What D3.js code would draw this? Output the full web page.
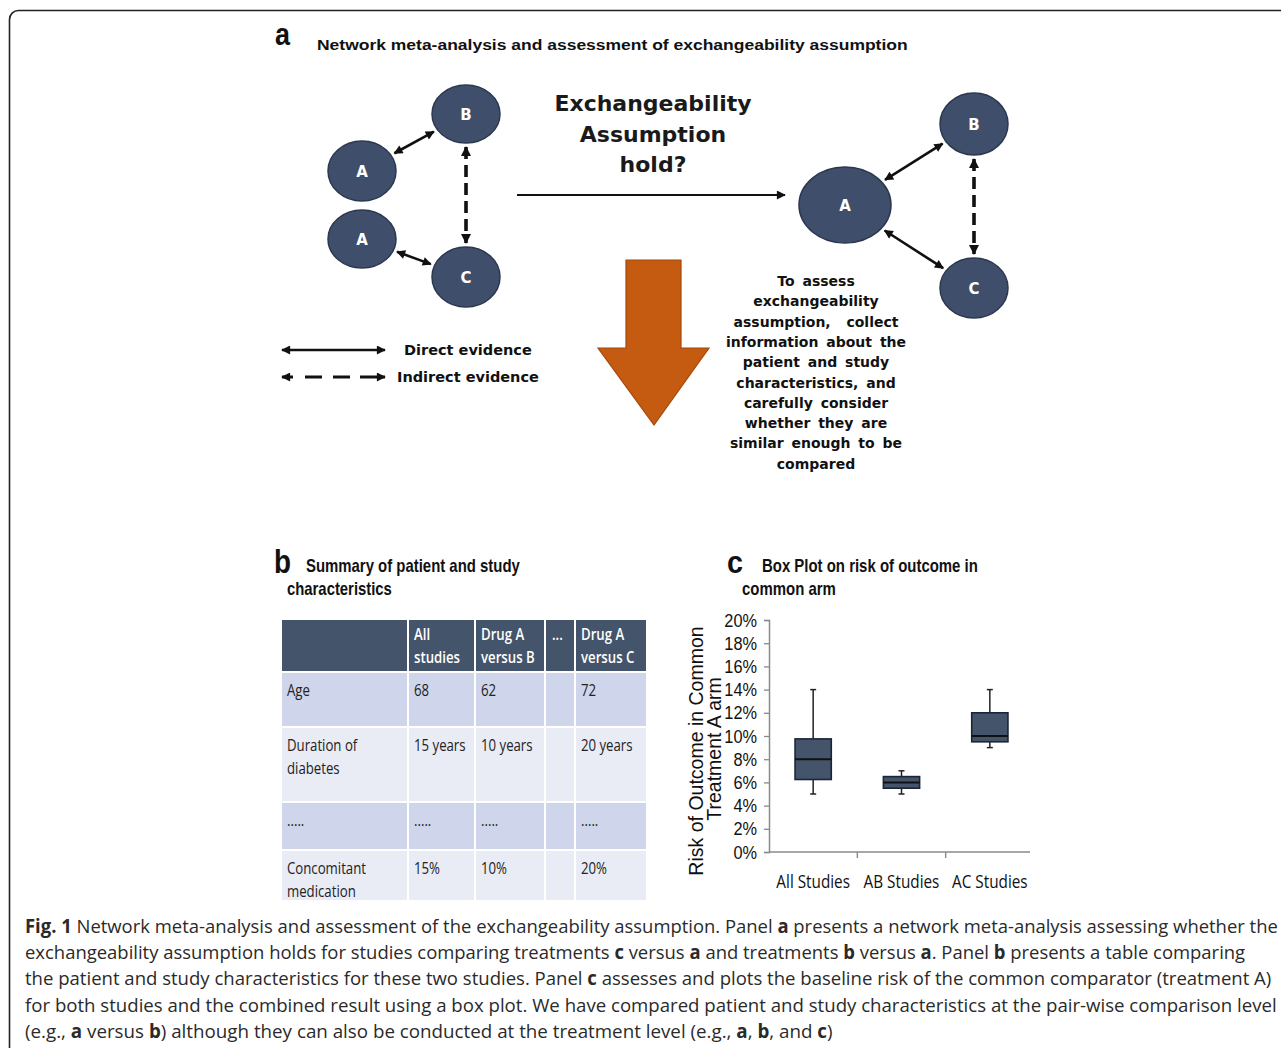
<!DOCTYPE html>
<html><head><meta charset="utf-8">
<script src="https://cdn.jsdelivr.net/npm/d3@7"></script>
<style>body{margin:0;background:#fff}svg{display:block}</style>
</head><body>
<svg id="fig" width="1281" height="1048"></svg>
<script>
// ---------------- DATA ----------------
// Panel c: box plot (risk of outcome, %)
const boxCategories = ["All Studies", "AB Studies", "AC Studies"];
const boxMin    = [5.0, 5.0, 9.0];
const boxQ1     = [6.25, 5.5, 9.5];
const boxMedian = [8.0, 6.0, 10.0];
const boxQ3     = [9.75, 6.5, 12.0];
const boxMax    = [14.0, 7.0, 14.0];
const yTickValues = [0, 2, 4, 6, 8, 10, 12, 14, 16, 18, 20];
const yTickLabels = ["0%", "2%", "4%", "6%", "8%", "10%", "12%", "14%", "16%", "18%", "20%"];

// Panel b: table
const tableHeader = [[""], ["All", "studies"], ["Drug A", "versus B"], ["..."], ["Drug A", "versus C"]];
const tableRowLabels = [["Age"], ["Duration of", "diabetes"], ["....."], ["Concomitant", "medication"]];
const tableColAll = ["68", "15 years", ".....", "15%"];
const tableColAB  = ["62", "10 years", ".....", "10%"];
const tableColDots = ["", "", "", ""];
const tableColAC  = ["72", "20 years", ".....", "20%"];

// Panel a: network
const leftNodeLabels  = ["B", "A", "A", "C"];
const rightNodeLabels = ["A", "B", "C"];
const leftEdges  = [[1, 0, "direct"], [2, 3, "direct"], [0, 3, "indirect"]];
const rightEdges = [[0, 1, "direct"], [0, 2, "direct"], [1, 2, "indirect"]];
const questionLines = ["Exchangeability", "Assumption", "hold?"];
const assessLines = ["To assess", "exchangeability", "assumption,  collect", "information about the",
  "patient and study", "characteristics, and", "carefully consider", "whether they are",
  "similar enough to be", "compared"];
const legendLabels = ["Direct evidence", "Indirect evidence"];

const captionLines = [
  "**Fig. 1** Network meta-analysis and assessment of the exchangeability assumption. Panel **a** presents a network meta-analysis assessing whether the",
  "exchangeability assumption holds for studies comparing treatments **c** versus **a** and treatments **b** versus **a**. Panel **b** presents a table comparing",
  "the patient and study characteristics for these two studies. Panel **c** assesses and plots the baseline risk of the common comparator (treatment A)",
  "for both studies and the combined result using a box plot. We have compared patient and study characteristics at the pair-wise comparison level",
  "(e.g., **a** versus **b**) although they can also be conducted at the treatment level (e.g., **a**, **b**, and **c**)"
];

// ---------------- LAYOUT ----------------
const L = {
  leftNodes: [{cx:466,cy:114,rx:34,ry:29},{cx:362,cy:171,rx:34,ry:30},{cx:362,cy:239,rx:34,ry:29},{cx:466,cy:277,rx:34,ry:30}],
  rightNodes: [{cx:845,cy:205,rx:46,ry:38},{cx:974,cy:124,rx:34,ry:31},{cx:974,cy:288,rx:34,ry:30}],
  tableCols: [281, 408, 475, 545, 575, 647],
  tableRows: [619, 672, 727, 802, 850, 901],
  captionWidths: [1253, 1221, 1247, 1253, 808],
  captionBaseY: 933, captionStep: 26.2
};
const NODE_FILL = "#3f4e6a", NODE_STROKE = "#2b3850", DARK = "#44546a";

const svg = d3.select("#fig");
const defs = svg.append("defs");
function marker(id, w, h) {
  defs.append("marker").attr("id", id).attr("viewBox", "0 0 10 10")
    .attr("refX", 9).attr("refY", 5).attr("markerUnits", "userSpaceOnUse")
    .attr("markerWidth", w).attr("markerHeight", h).attr("orient", "auto-start-reverse")
    .append("path").attr("d", "M0,0 L10,5 L0,10 z").attr("fill", "#111");
}
marker("ah", 11, 9);
marker("ahd", 10, 11);
// horizontal squeeze about the text's anchor x (real geometry, not textLength)
function squeeze(sel, f) {
  sel.each(function () {
    const ax = +(this.getAttribute("x") || 0);
    this.setAttribute("transform", `translate(${ax},0) scale(${f},1) translate(${-ax},0)`);
  });
}
function condense(sel, f) { squeeze(sel, f); }
function fit(sel, w) {
  sel.each(function () {
    const nat = this.getComputedTextLength();
    squeeze(d3.select(this), w / nat);
  });
}

// frame
svg.append("rect").attr("x", 9.5).attr("y", 10.5).attr("width", 1320).attr("height", 1100)
  .attr("rx", 9).attr("fill", "none").attr("stroke", "#222").attr("stroke-width", 1.6);

// ---------------- PANEL A ----------------
const gA = svg.append("g");
gA.append("text").attr("x", 275).attr("y", 45).attr("font-family", "Liberation Sans, Arial")
  .attr("font-weight", 700).attr("font-size", 31).attr("fill", "#111").text("a").call(fit, 15);
gA.append("text").attr("x", 317).attr("y", 50).attr("font-family", "Liberation Sans, Arial")
  .attr("font-weight", 700).attr("font-size", 15.5).attr("fill", "#111")
  .text("Network meta-analysis and assessment of exchangeability assumption").call(fit, 591);

function edgePts(a, b, gap) {
  const dx = b.cx - a.cx, dy = b.cy - a.cy, len = Math.hypot(dx, dy), ux = dx / len, uy = dy / len;
  const ta = 1 / Math.hypot(ux / a.rx, uy / a.ry), tb = 1 / Math.hypot(ux / b.rx, uy / b.ry);
  return [a.cx + ux * (ta + gap), a.cy + uy * (ta + gap), b.cx - ux * (tb + gap), b.cy - uy * (tb + gap)];
}
function drawNetwork(nodes, labels, edges) {
  edges.forEach(([i, j, kind]) => {
    const p = edgePts(nodes[i], nodes[j], 4);
    const ln = gA.append("line").attr("x1", p[0]).attr("y1", p[1]).attr("x2", p[2]).attr("y2", p[3])
      .attr("stroke", "#111").attr("fill", "none");
    if (kind === "direct") {
      ln.attr("stroke-width", 2.6).attr("marker-start", "url(#ah)").attr("marker-end", "url(#ah)");
    } else {
      ln.attr("stroke-width", 3.6).attr("stroke-dasharray", "12,6")
        .attr("marker-start", "url(#ahd)").attr("marker-end", "url(#ahd)");
    }
  });
  nodes.forEach((n, k) => {
    gA.append("ellipse").attr("cx", n.cx).attr("cy", n.cy).attr("rx", n.rx).attr("ry", n.ry)
      .attr("fill", NODE_FILL).attr("stroke", NODE_STROKE).attr("stroke-width", 1.5);
    gA.append("text").attr("x", n.cx).attr("y", n.cy + 5.5).attr("text-anchor", "middle")
      .attr("font-family", "DejaVu Sans, Verdana").attr("font-weight", 700).attr("font-size", 15)
      .attr("fill", "#fff").text(labels[k]);
  });
}
drawNetwork(L.leftNodes, leftNodeLabels, leftEdges);
drawNetwork(L.rightNodes, rightNodeLabels, rightEdges);

// big horizontal arrow
gA.append("line").attr("x1", 517).attr("y1", 195).attr("x2", 785).attr("y2", 195)
  .attr("stroke", "#111").attr("stroke-width", 2).attr("marker-end", "url(#ah)");

// question text
gA.selectAll("text.q").data(questionLines).join("text").attr("class", "q")
  .attr("x", 653).attr("y", (d, i) => 111 + i * 30.5).attr("text-anchor", "middle")
  .attr("font-family", "DejaVu Sans, Verdana").attr("font-weight", 700).attr("font-size", 22)
  .attr("fill", "#1a1a1a").text(d => d);

// orange arrow
gA.append("path").attr("d", "M626,260 L681,260 L681,348 L709,348 L654,425 L598,348 L626,348 Z")
  .attr("fill", "#c55a11").attr("stroke", "#a4490c").attr("stroke-width", 1.2);

// assess text
gA.selectAll("text.as").data(assessLines).join("text").attr("class", "as")
  .attr("x", 816).attr("y", (d, i) => 286 + i * 20.3).attr("text-anchor", "middle")
  .attr("font-family", "DejaVu Sans, Verdana").attr("font-weight", 700).attr("font-size", 14)
  .attr("word-spacing", 3).attr("fill", "#111").attr("xml:space", "preserve").text(d => d);

// legend
gA.append("line").attr("x1", 282).attr("y1", 350).attr("x2", 385).attr("y2", 350)
  .attr("stroke", "#111").attr("stroke-width", 2.6)
  .attr("marker-start", "url(#ah)").attr("marker-end", "url(#ah)");
gA.append("line").attr("x1", 282).attr("y1", 377).attr("x2", 385).attr("y2", 377)
  .attr("stroke", "#111").attr("stroke-width", 2.8).attr("stroke-dasharray", "11,12,17,11,17,10,30")
  .attr("marker-start", "url(#ah)").attr("marker-end", "url(#ah)");
gA.selectAll("text.lg").data(legendLabels).join("text").attr("class", "lg")
  .attr("x", (d, i) => i === 0 ? 404 : 397).attr("y", (d, i) => 355 + i * 27)
  .attr("font-family", "DejaVu Sans, Verdana").attr("font-weight", 700).attr("font-size", 14.5)
  .attr("fill", "#111").text(d => d);

// ---------------- PANEL B ----------------
const gB = svg.append("g");
gB.append("text").attr("x", 274).attr("y", 573).attr("font-family", "Liberation Sans, Arial")
  .attr("font-weight", 700).attr("font-size", 34).attr("fill", "#111").text("b").call(fit, 17);
gB.append("text").attr("x", 306).attr("y", 572).attr("font-family", "Liberation Sans, Arial")
  .attr("font-weight", 700).attr("font-size", 17.5).attr("fill", "#111")
  .text("Summary of patient and study").call(fit, 214);
gB.append("text").attr("x", 287).attr("y", 595).attr("font-family", "Liberation Sans, Arial")
  .attr("font-weight", 700).attr("font-size", 17.5).attr("fill", "#111")
  .text("characteristics").call(fit, 105);

const tableBody = tableRowLabels.map((lab, r) => [lab, [tableColAll[r]], [tableColAB[r]], [tableColDots[r]], [tableColAC[r]]]);
const tableAll = [tableHeader].concat(tableBody);
const rowFills = [DARK, "#cfd5ea", "#e9ebf5", "#cfd5ea", "#e9ebf5"];
const C = L.tableCols, R = L.tableRows;
tableAll.forEach((row, r) => {
  row.forEach((cell, c) => {
    gB.append("rect").attr("x", C[c] + 1).attr("y", R[r] + 1)
      .attr("width", C[c + 1] - C[c] - 2).attr("height", R[r + 1] - R[r] - 2)
      .attr("fill", rowFills[r]);
    cell.forEach((line, k) => {
      if (!line) return;
      gB.append("text").attr("x", C[c] + (r === 0 && c === 3 ? 7 : 6))
        .attr("y", R[r] + (r === 0 ? 21 : 24) + k * 23.5)
        .attr("font-family", "Open Sans, Noto Sans, sans-serif").attr("font-size", 16.5)
        .attr("font-weight", r === 0 ? 600 : 400)
        .attr("fill", r === 0 ? "#fff" : "#222").text(line).call(condense, 0.8);
    });
  });
});

// ---------------- PANEL C ----------------
const gC = svg.append("g");
gC.append("text").attr("x", 727).attr("y", 573).attr("font-family", "Liberation Sans, Arial")
  .attr("font-weight", 700).attr("font-size", 32).attr("fill", "#111").text("c").call(fit, 16);
gC.append("text").attr("x", 762).attr("y", 572).attr("font-family", "Liberation Sans, Arial")
  .attr("font-weight", 700).attr("font-size", 17.5).attr("fill", "#111")
  .text("Box Plot on risk of outcome in").call(fit, 216);
gC.append("text").attr("x", 742).attr("y", 595).attr("font-family", "Liberation Sans, Arial")
  .attr("font-weight", 700).attr("font-size", 17.5).attr("fill", "#111")
  .text("common arm").call(fit, 94);

const y = d3.scaleLinear().domain([0, 20]).range([852, 620]);
const x = d3.scaleBand().domain(boxCategories).range([769, 1034]).padding(0);

const yAxis = gC.append("g").attr("transform", "translate(769,0)")
  .call(d3.axisLeft(y).tickValues(yTickValues).tickFormat((d, i) => yTickLabels[i]).tickSize(5).tickPadding(7));
yAxis.select(".domain").attr("stroke", "#8a8a8a").attr("stroke-width", 1.5);
yAxis.selectAll(".tick line").attr("stroke", "#8a8a8a").attr("stroke-width", 1.3);
yAxis.selectAll(".tick text").attr("font-family", "Liberation Sans, Arial").attr("font-size", 19)
  .attr("fill", "#111").call(condense, 0.86);

const xAxis = gC.append("g").attr("transform", "translate(0,852)")
  .call(d3.axisBottom(x).tickSize(0).tickPadding(0));
xAxis.select(".domain").attr("stroke", "#8a8a8a").attr("stroke-width", 1.5)
  .attr("d", `M${x.range()[0]},0H${x.range()[1] - 4}`);
xAxis.selectAll(".tick text").attr("y", 36).attr("dy", 0).attr("font-family", "Open Sans, Noto Sans, sans-serif")
  .attr("font-size", 18).attr("fill", "#111").call(condense, 0.85);
gC.selectAll("line.xb").data(boxCategories.slice(1)).join("line").attr("class", "xb")
  .attr("x1", d => x(d)).attr("x2", d => x(d)).attr("y1", 852).attr("y2", 858)
  .attr("stroke", "#8a8a8a").attr("stroke-width", 1.4);

// y title
const yt = gC.append("g").attr("transform", "rotate(-90)");
yt.append("text").attr("x", -751).attr("y", 703).attr("text-anchor", "middle")
  .attr("font-family", "Liberation Sans, Arial").attr("font-size", 19.5).attr("fill", "#111")
  .text("Risk of Outcome in Common");
yt.append("text").attr("x", -749).attr("y", 721).attr("text-anchor", "middle")
  .attr("font-family", "Liberation Sans, Arial").attr("font-size", 19.5).attr("fill", "#111")
  .text("Treatment A arm");

// boxes
const boxData = boxCategories.map((c, i) => ({c, min: boxMin[i], q1: boxQ1[i], med: boxMedian[i], q3: boxQ3[i], max: boxMax[i]}));
const bw = x.bandwidth() * 0.41;
const bx = d => x(d.c) + x.bandwidth() / 2;
const bg = gC.selectAll("g.box").data(boxData).join("g").attr("class", "box");
bg.append("line").attr("x1", bx).attr("x2", bx).attr("y1", d => y(d.max)).attr("y2", d => y(d.min))
  .attr("stroke", "#222").attr("stroke-width", 1.5);
bg.append("line").attr("x1", d => bx(d) - 3).attr("x2", d => bx(d) + 3).attr("y1", d => y(d.max)).attr("y2", d => y(d.max))
  .attr("stroke", "#222").attr("stroke-width", 1.5);
bg.append("line").attr("x1", d => bx(d) - 3).attr("x2", d => bx(d) + 3).attr("y1", d => y(d.min)).attr("y2", d => y(d.min))
  .attr("stroke", "#222").attr("stroke-width", 1.5);
bg.append("rect").attr("x", d => bx(d) - bw / 2).attr("width", bw)
  .attr("y", d => y(d.q3)).attr("height", d => y(d.q1) - y(d.q3))
  .attr("fill", DARK).attr("stroke", "#1c2536").attr("stroke-width", 1.6);
bg.append("line").attr("x1", d => bx(d) - bw / 2).attr("x2", d => bx(d) + bw / 2)
  .attr("y1", d => y(d.med)).attr("y2", d => y(d.med)).attr("stroke", "#111").attr("stroke-width", 2);

// ---------------- CAPTION ----------------
const gCap = svg.append("g");
captionLines.forEach((line, i) => {
  const t = gCap.append("text").attr("x", 25).attr("y", L.captionBaseY + i * L.captionStep)
    .attr("font-family", "Open Sans, Noto Sans, sans-serif").attr("font-size", 19)
    .attr("fill", "#2a2a2a").attr("xml:space", "preserve");
  line.split(/(\*\*[^*]+\*\*)/).filter(s => s.length).forEach(seg => {
    const bold = seg.startsWith("**");
    t.append("tspan").attr("font-weight", bold ? 700 : 400).text(bold ? seg.slice(2, -2) : seg);
  });
  t.call(fit, L.captionWidths[i]);
});
</script>
</body></html>
